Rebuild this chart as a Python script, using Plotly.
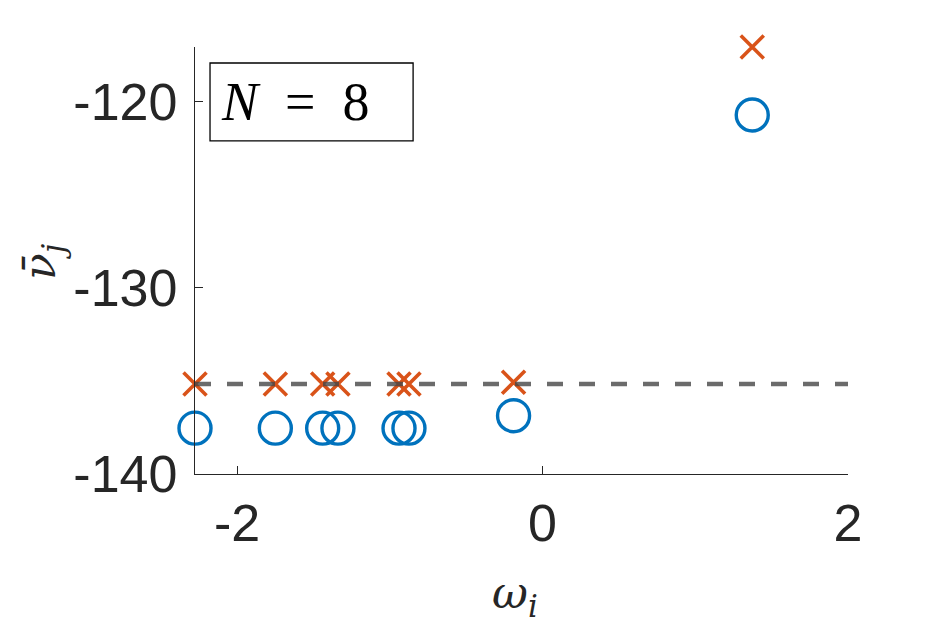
import plotly.graph_objects as go

# omega_i positions and the two estimates of nu_bar_j
omega = [-2.276, -1.75, -1.44, -1.34, -0.94, -0.875, -0.19, 1.373]
nu_circle = [-137.54, -137.54, -137.54, -137.54, -137.54, -137.54, -136.87, -120.73]
nu_cross = [-135.17, -135.17, -135.17, -135.17, -135.17, -135.17, -135.08, -117.08]
nu_ref = -135.17
x_ticks = [-2, 0, 2]
y_ticks = [-140, -130, -120]
x_range = [-2.276, 2]
y_range = [-140, -117.08]

fig = go.Figure()

fig.add_trace(go.Scatter(
    x=omega, y=nu_circle, mode="markers", cliponaxis=False,
    marker=dict(symbol="circle-open", size=32, color="#0072BD",
                line=dict(width=3.4, color="#0072BD")),
    showlegend=False))

fig.add_trace(go.Scatter(
    x=omega, y=nu_cross, mode="markers", cliponaxis=False,
    marker=dict(symbol="x-thin-open", size=23, color="#D95319",
                line=dict(width=3.6, color="#D95319")),
    showlegend=False))

# dashed reference line
fig.add_trace(go.Scatter(
    x=x_range, y=[nu_ref, nu_ref], mode="lines", cliponaxis=False,
    line=dict(color="rgba(70,70,70,0.8)", width=4.5, dash="16px,16px"),
    showlegend=False))

axis_common = dict(
    showgrid=False, zeroline=False, showline=True, linecolor="#262626",
    linewidth=1.3, ticks="inside", ticklen=8, tickwidth=1.3, tickcolor="#262626",
    tickfont=dict(family="Liberation Sans, Arial", size=52, color="#262626"),
    mirror=False)

fig.update_xaxes(range=x_range, tickvals=x_ticks, ticktext=["-2", "0", "2"],
                 ticklabelstandoff=3, **axis_common)
fig.update_yaxes(range=y_range, tickvals=y_ticks, ticktext=["-140", "-130", "-120"],
                 ticklabelstandoff=6, **axis_common)

# N = 8 box
fig.add_shape(type="rect", xref="paper", yref="paper",
              x0=0.023, x1=0.334, y0=0.78, y1=0.9625,
              line=dict(color="black", width=1.3), fillcolor="white", layer="above")
fig.add_annotation(xref="paper", yref="paper", x=0.036, y=0.871,
                   xanchor="left", yanchor="middle", showarrow=False,
                   text="<i>N</i>\u2002=\u20028",
                   font=dict(family="Liberation Serif, serif", size=54, color="black"))

# axis labels
fig.add_annotation(xref="paper", yref="paper", x=(515 - 195) / 653, y=-(595 - 474) / 427,
                   xanchor="center", yanchor="middle", showarrow=False,
                   text="<i>ω</i><sub><i>i</i></sub>",
                   font=dict(family="DejaVu Serif, serif", size=44, color="#262626"))
fig.add_annotation(xref="paper", yref="paper", x=-(195 - 42) / 653, y=(474 - 262) / 427,
                   xanchor="center", yanchor="middle", showarrow=False, textangle=-90,
                   text="<i>ν\u0304</i><sub><i>j</i></sub>",
                   font=dict(family="DejaVu Serif, serif", size=44, color="#262626"))

# page body has an 8px margin, so the plot area is offset by 8px
fig.update_layout(
    width=938, height=625,
    margin=dict(l=187, r=98, t=39, b=159),
    plot_bgcolor="white", paper_bgcolor="white")

fig.write_html("out.html")
